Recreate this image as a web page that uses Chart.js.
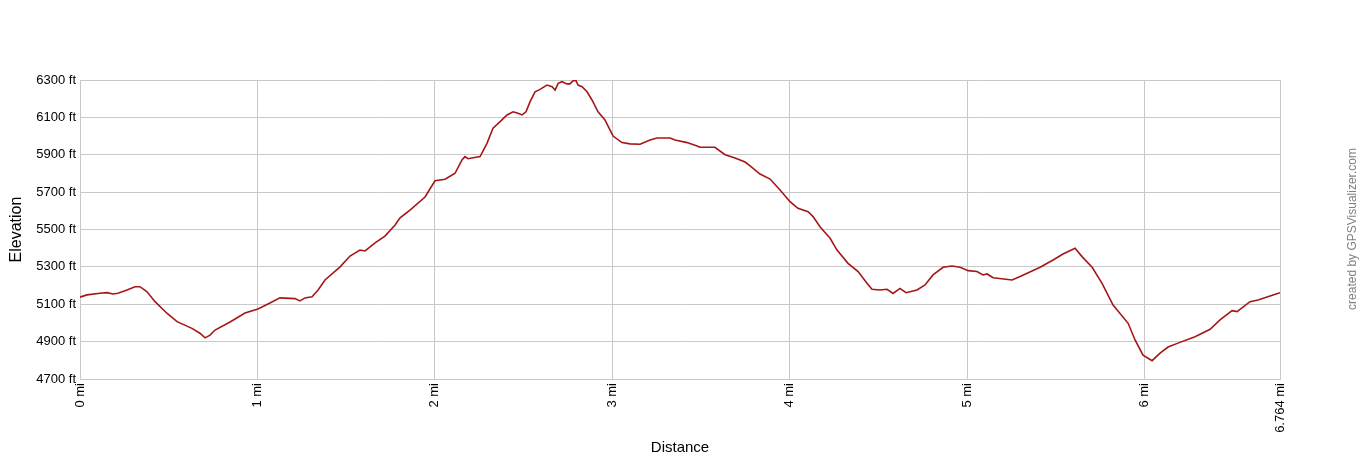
<!DOCTYPE html>
<html>
<head>
<meta charset="utf-8">
<script src="https://cdn.jsdelivr.net/npm/chart.js@4.4.1/dist/chart.umd.min.js"></script>
<style>
  html, body { margin: 0; padding: 0; background: #fff; }
  #wrap { width: 1360px; height: 460px; position: relative; }
</style>
</head>
<body>
<div id="wrap"><canvas id="c" width="1360" height="460"></canvas></div>
<script>
// Distance along track (miles)
const distanceMi = [
  0.000, 0.039, 0.113, 0.152, 0.186, 0.214, 0.265, 0.310, 0.338, 0.378,
  0.423, 0.490, 0.547, 0.631, 0.676, 0.705, 0.733, 0.761, 0.846, 0.930,
  1.003, 1.071, 1.127, 1.212, 1.240, 1.268, 1.308, 1.342, 1.381, 1.466,
  1.522, 1.578, 1.607, 1.663, 1.719, 1.776, 1.804, 1.860, 1.945, 2.001,
  2.058, 2.114, 2.153, 2.170, 2.187, 2.255, 2.294, 2.328, 2.368, 2.407,
  2.441, 2.469, 2.492, 2.514, 2.537, 2.565, 2.593, 2.632, 2.661, 2.678,
  2.695, 2.717, 2.745, 2.762, 2.779, 2.796, 2.807, 2.830, 2.858, 2.886,
  2.920, 2.959, 2.988, 3.005, 3.055, 3.100, 3.157, 3.213, 3.252, 3.326,
  3.354, 3.422, 3.478, 3.495, 3.579, 3.636, 3.692, 3.749, 3.777, 3.833,
  3.890, 3.946, 4.002, 4.047, 4.104, 4.132, 4.171, 4.228, 4.267, 4.329,
  4.386, 4.436, 4.464, 4.509, 4.549, 4.583, 4.622, 4.656, 4.718, 4.763,
  4.808, 4.865, 4.915, 4.961, 5.006, 5.056, 5.090, 5.113, 5.147, 5.254,
  5.299, 5.412, 5.485, 5.541, 5.609, 5.648, 5.705, 5.761, 5.823, 5.908,
  5.947, 5.992, 6.043, 6.088, 6.133, 6.189, 6.285, 6.370, 6.426, 6.494,
  6.522, 6.595, 6.640, 6.708, 6.764
];
// Elevation (feet)
const elevationFt = [
  5138, 5150, 5159, 5162, 5155, 5159, 5176, 5194, 5194, 5167,
  5114, 5052, 5007, 4971, 4945, 4920, 4935, 4962, 5005, 5053,
  5075, 5107, 5134, 5130, 5118, 5134, 5140, 5176, 5230, 5300,
  5358, 5390, 5385, 5428, 5465, 5524, 5562, 5604, 5674, 5761,
  5769, 5801, 5872, 5890, 5879, 5890, 5961, 6042, 6077, 6113,
  6130, 6122, 6113, 6130, 6184, 6237, 6250, 6273, 6264, 6246,
  6282, 6291, 6279, 6279, 6296, 6296, 6273, 6264, 6237, 6193,
  6130, 6086, 6032, 6000, 5965, 5958, 5956, 5979, 5990, 5990,
  5979, 5965, 5947, 5940, 5940, 5900, 5883, 5861, 5840, 5797,
  5770, 5711, 5649, 5613, 5595, 5569, 5515, 5453, 5390, 5319,
  5275, 5212, 5180, 5176, 5180, 5158, 5185, 5162, 5176, 5203,
  5257, 5298, 5305, 5298, 5280, 5275, 5257, 5262, 5242, 5230,
  5248, 5298, 5337, 5369, 5400, 5355, 5298, 5212, 5096, 4998,
  4909, 4828, 4798, 4838, 4871, 4892, 4926, 4966, 5016, 5066,
  5061, 5114, 5123, 5144, 5162
];
// Axis tick values
const xTickValues = [0, 1, 2, 3, 4, 5, 6, 6.764];
const yTickValues = [4700, 4900, 5100, 5300, 5500, 5700, 5900, 6100, 6300];

const points = distanceMi.map((d, i) => ({ x: d, y: elevationFt[i] }));

const creditPlugin = {
  id: 'credit',
  afterDraw(chart) {
    const ctx = chart.ctx;
    ctx.save();
    ctx.translate(1353, 229);
    ctx.rotate(-Math.PI / 2);
    ctx.font = '12px "Liberation Sans", Arial, sans-serif';
    ctx.fillStyle = '#808080';
    ctx.textAlign = 'center';
    ctx.textBaseline = 'middle';
    ctx.fillText('created by GPSVisualizer.com', 0, 0);
    ctx.restore();
  }
};

const FONT = '"Liberation Sans", Arial, sans-serif';
const GRID = '#c8c8c8';

new Chart(document.getElementById('c'), {
  type: 'line',
  data: {
    datasets: [{
      data: points,
      borderColor: '#a51616',
      borderWidth: 1.6,
      pointRadius: 0,
      tension: 0,
      fill: false
    }]
  },
  options: {
    responsive: false,
    animation: false,
    events: [],
    layout: { padding: { top: 80, right: 80, left: 0, bottom: 0 } },
    plugins: { legend: { display: false }, tooltip: { enabled: false } },
    scales: {
      x: {
        type: 'linear',
        min: 0,
        max: 6.764,
        afterBuildTicks(scale) { scale.ticks = xTickValues.map(v => ({ value: v })); },
        afterFit(scale) { scale.height = 81; },
        ticks: {
          autoSkip: false,
          minRotation: 90,
          maxRotation: 90,
          padding: 4,
          color: '#000',
          font: { family: FONT, size: 13 },
          callback: v => v + ' mi'
        },
        grid: { color: GRID, lineWidth: 1, drawTicks: false },
        border: { color: GRID },
        title: {
          display: true,
          text: 'Distance',
          color: '#000',
          font: { family: FONT, size: 15 },
          padding: { top: 0, bottom: 3 }
        }
      },
      y: {
        min: 4700,
        max: 6300,
        afterBuildTicks(scale) { scale.ticks = yTickValues.map(v => ({ value: v })); },
        afterFit(scale) { scale.width = 80; },
        ticks: {
          padding: 4,
          color: '#000',
          font: { family: FONT, size: 13 },
          callback: v => v + ' ft'
        },
        grid: { color: GRID, lineWidth: 1, drawTicks: false },
        border: { color: GRID },
        title: {
          display: true,
          text: 'Elevation',
          color: '#000',
          font: { family: FONT, size: 16 },
          padding: { top: 7, bottom: 0 }
        }
      }
    }
  },
  plugins: [creditPlugin]
});
</script>
</body>
</html>
